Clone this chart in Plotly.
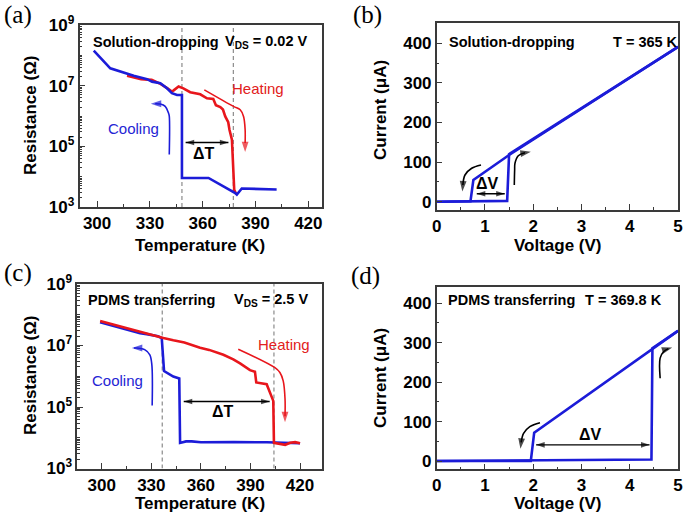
import numpy as np
import plotly.graph_objects as go

FONT = "Liberation Sans, Arial, sans-serif"
SERIF = "Liberation Serif, Times New Roman, serif"
BLUE = "#1c1cd8"
RED = "#e8161c"
FRAME = "#3a3a3a"
GRAY = "#8a8a8a"
W, H = 685, 515

# ---------------- data ----------------
# (a) solution-dropping, R vs T
a_cool_T = [298.1, 307.5, 320.8, 328.4, 331.2, 335.9, 339.7, 342.5, 345.4, 347.2, 348.2,
            348.2, 363.3, 378.5, 379.4, 382.2, 402.0]
a_cool_R = [1.45e8, 3.8e7, 2.14e7, 1.66e7, 1.38e7, 1.23e7, 8.3e6, 5.75e6, 5.0e6, 5.0e6, 5.0e6,
            9.1e3, 9.1e3, 2.9e3, 2.57e3, 4.07e3, 3.8e3]
a_heat_T = [317.0, 325.0, 331.0, 336.0, 340.0, 342.5, 343.5, 346.3, 349.0, 352.9, 358.6,
            362.4, 366.0, 367.5, 370.0, 371.5, 372.8, 374.5, 375.2, 376.6, 377.9, 379.0]
a_heat_R = [2.14e7, 1.66e7, 1.58e7, 1.17e7, 8.3e6, 6.5e6, 7.1e6, 9.5e6, 8.3e6, 6.2e6, 5.25e6,
            3.9e6, 3.7e6, 2.3e6, 2.0e6, 1.66e6, 9.8e5, 6.3e5, 3.55e5, 1.66e5, 3.7e3, 2.7e3]
a_dash_T = [348.2, 377.4]

# (b) solution-dropping, I vs V at 365 K
b_up_V = [0.0, 0.70, 1.46, 1.50, 2.62, 5.0]
b_up_I = [0.0, 1.0, 2.0, 120.0, 206.0, 391.0]
b_down_V = [5.0, 2.62, 1.50, 0.76, 0.70, 0.0]
b_down_I = [391.0, 206.0, 118.0, 55.0, 1.0, 0.0]

# (c) PDMS transferring, R vs T
c_heat_T = [299.0, 310.0, 320.0, 327.2, 337.3, 343.3, 350.0, 359.5, 365.0, 373.6, 379.6, 383.7,
            389.7, 392.7, 393.5, 399.8, 402.8, 403.8, 404.2, 408.0, 411.0, 414.0, 417.0, 420.0]
c_heat_R = [6.31e7, 4.37e7, 3.02e7, 2.34e7, 1.74e7, 1.48e7, 1.26e7, 8.5e6, 7.2e6, 5.0e6, 3.55e6,
            2.63e6, 1.58e6, 1.41e6, 6.3e5, 5.5e5, 2.34e5, 1.58e5, 6.8e3, 6.2e3, 5.9e3, 6.9e3,
            7.2e3, 6.6e3]
c_cool_T = [299.0, 301.0, 310.0, 320.0, 323.2, 327.2, 331.2, 334.0, 336.3, 337.7, 343.3, 346.9,
            347.4, 351.0, 354.4, 360.0, 380.0, 400.0, 420.0]
c_cool_R = [5.75e7, 5.37e7, 3.98e7, 2.82e7, 2.51e7, 2.34e7, 2.19e7, 2.0e7, 1.74e7, 1.48e6,
            9.8e5, 8.5e5, 6.8e3, 7.6e3, 7.6e3, 7.1e3, 7.2e3, 7.1e3, 6.6e3]
c_dash_T = [336.6, 404.2]

# (d) PDMS transferring, I vs V at 369.8 K
d_up_V = [0.0, 4.45, 4.47, 5.0]
d_up_I = [0.0, 4.0, 286.0, 330.0]
d_down_V = [5.0, 2.02, 1.95, 0.0]
d_down_I = [330.0, 72.0, 0.0, 0.0]

# ticks
temp_ticks = [300, 330, 360, 390, 420]
temp_minor = [285, 315, 345, 375, 405]
res_ticks = [1e3, 1e5, 1e7, 1e9]
res_ticktext = ["10<sup>3</sup>", "10<sup>5</sup>", "10<sup>7</sup>", "10<sup>9</sup>"]
cur_ticks = [0, 100, 200, 300, 400]
cur_minor = [50, 150, 250, 350, 450]
volt_ticks = [0, 1, 2, 3, 4, 5]
volt_minor = [0.5, 1.5, 2.5, 3.5, 4.5]

# decoration paths (curved arrows), last point = arrow tip
a_coolarr_T = [341.0, 341.0, 340.6, 338.7, 335.9, 333.0, 330.5]
a_coolarr_R = [5.4e4, 1.0e6, 1.26e6, 2.1e6, 2.5e6, 2.57e6, 2.57e6]
a_heatarr_T = [360.9, 377.5, 381.3, 383.2, 384.1, 384.1, 384.1]
a_heatarr_R = [7.4e6, 2.1e6, 1.62e6, 9.8e5, 3.55e5, 1.3e5, 6.5e4]
c_coolarr_T = [330.5, 330.3, 329.1, 326.2, 321.2, 319.5, 318.2]
c_coolarr_R = [1.12e5, 2.4e6, 5.0e6, 7.2e6, 8.3e6, 8.3e6, 8.3e6]
c_heatarr_T = [382.6, 404.8, 407.8, 409.8, 410.9, 410.9, 410.9]
c_heatarr_R = [7.6e6, 1.9e6, 1.32e6, 7.1e5, 1.86e5, 5.0e4, 3.2e4]
b_downarr_V = [0.918, 0.725, 0.586, 0.542, 0.532]
b_downarr_I = [92.7, 84.3, 67.4, 42.0, 26.0]
b_uparr_V = [1.608, 1.615, 1.622, 1.69, 1.83, 1.95]
b_uparr_I = [42.0, 80.0, 97.0, 116.0, 123.5, 126.0]
d_downarr_V = [2.14, 1.93, 1.80, 1.75, 1.735]
d_downarr_I = [97.0, 87.0, 70.0, 47.0, 31.0]
d_uparr_V = [4.63, 4.63, 4.70, 4.80, 4.88]
d_uparr_I = [210.0, 261.0, 277.0, 285.0, 288.0]

fig = go.Figure()


def line(x, y, xa, ya, color, width, dash=None, shape="linear"):
    fig.add_trace(go.Scatter(x=x, y=y, xaxis=xa, yaxis=ya, mode="lines",
                             line=dict(color=color, width=width, dash=dash, shape=shape),
                             hoverinfo="skip", showlegend=False))


def tip(x, y, xa, ya, color, size=11):
    # arrow head on the last point, oriented along the final segment
    fig.add_trace(go.Scatter(x=x[-2:], y=y[-2:], xaxis=xa, yaxis=ya, mode="markers",
                             marker=dict(symbol="arrow", size=[0, size], color=color,
                                         angleref="previous", line=dict(width=0)),
                             hoverinfo="skip", showlegend=False))


def curved(x, y, xa, ya, color):
    line(x[:-1], y[:-1], xa, ya, color, 1.6, shape="spline")
    tip(x, y, xa, ya, color)


def double(x0, x1, y, xa, ya):
    line([x0, x1], [y, y], xa, ya, "black", 1.4)
    tip([x0, x1], [y, y], xa, ya, "black", size=9)
    tip([x1, x0], [y, y], xa, ya, "black", size=9)


# dashed guide lines
for t in a_dash_T:
    line([t, t], [1e3, 1e9], "x", "y", GRAY, 1.2, dash="4px,3px")
for t in c_dash_T:
    line([t, t], [1e3, 1e9], "x3", "y3", GRAY, 1.2, dash="4px,3px")

# data curves
line(a_heat_T, a_heat_R, "x", "y", RED, 2.6)
line(a_cool_T, a_cool_R, "x", "y", BLUE, 2.6)
line(b_up_V, b_up_I, "x2", "y2", BLUE, 2.6)
line(b_down_V, b_down_I, "x2", "y2", BLUE, 2.6)
line(c_cool_T, c_cool_R, "x3", "y3", BLUE, 2.6)
line(c_heat_T, c_heat_R, "x3", "y3", RED, 2.6)
line(d_up_V, d_up_I, "x4", "y4", BLUE, 2.6)
line(d_down_V, d_down_I, "x4", "y4", BLUE, 2.6)

# curved arrows
curved(a_coolarr_T, a_coolarr_R, "x", "y", BLUE)
curved(a_heatarr_T, a_heatarr_R, "x", "y", RED)
curved(c_coolarr_T, c_coolarr_R, "x3", "y3", BLUE)
curved(c_heatarr_T, c_heatarr_R, "x3", "y3", RED)
curved(b_downarr_V, b_downarr_I, "x2", "y2", "black")
curved(b_uparr_V, b_uparr_I, "x2", "y2", "black")
curved(d_downarr_V, d_downarr_I, "x4", "y4", "black")
curved(d_uparr_V, d_uparr_I, "x4", "y4", "black")

# double-headed arrows
double(350.3, 374.6, 1.35e5, "x", "y")
double(349.6, 401.6, 1.51e5, "x3", "y3")
double(0.83, 1.41, 20, "x2", "y2")
double(2.06, 4.41, 41, "x4", "y4")

ann = []


def P(px, py):
    return px / W, 1 - py / H


def text(px, py, s, size=14.5, color="black", weight="bold", family=FONT, xanchor="left",
         angle=0):
    x, y = P(px, py)
    ann.append(dict(x=x, y=y, xref="paper", yref="paper", text=s, showarrow=False,
                    xanchor=xanchor, yanchor="middle", textangle=angle, borderpad=0,
                    font=dict(family=family, size=size, color=color, weight=weight)))


def dtext(x, y, xr, yr, s, size=15, color="black", weight="bold"):
    ann.append(dict(x=x, y=y, xref=xr, yref=yr, text=s, showarrow=False,
                    xanchor="center", yanchor="middle",
                    font=dict(family=FONT, size=size, color=color, weight=weight)))


# (annotations on log axes take log10 positions)
dtext(361.0, 4.78, "x", "y", "ΔT", size=16)
dtext(373.6, 4.85, "x3", "y3", "ΔT", size=16)
dtext(1.05, 47, "x2", "y2", "ΔV", size=16)
dtext(3.18, 66, "x4", "y4", "ΔV", size=16)

dtext(320.8, 5.58, "x", "y", "Cooling", size=15, color="#2424d4", weight="normal")
dtext(391.3, 6.90, "x", "y", "Heating", size=15, color="#e22020", weight="normal")
dtext(309.6, 5.87, "x3", "y3", "Cooling", size=15, color="#2424d4", weight="normal")
dtext(410.3, 7.02, "x3", "y3", "Heating", size=15, color="#e22020", weight="normal")

# in-panel captions
text(91.7, 41.7, "Solution-dropping")
text(224, 41.7, "V<sub>DS</sub> = 0.02 V")
text(448.3, 41.7, "Solution-dropping")
text(611.7, 41.7, "T = 365 K")
text(87.3, 300, "PDMS transferring")
text(233.3, 300, "V<sub>DS</sub> = 2.5 V")
text(446.7, 300, "PDMS transferring")
text(584.3, 300, "T = 369.8 K")

# panel labels
text(17.5, 15, "(a)", size=25, weight="normal", family=SERIF, xanchor="center")
text(367, 15, "(b)", size=25, weight="normal", family=SERIF, xanchor="center")
text(18, 273, "(c)", size=25, weight="normal", family=SERIF, xanchor="center")
text(366, 276, "(d)", size=25, weight="normal", family=SERIF, xanchor="center")

# axis titles
text(30, 116, "Resistance (Ω)", size=17, xanchor="center", angle=-90)
text(200, 245.7, "Temperature (K)", size=17, xanchor="center")
text(380, 110, "Current (μA)", size=17, xanchor="center", angle=-90)
text(558.3, 245.7, "Voltage (V)", size=17, xanchor="center")
text(30, 376, "Resistance (Ω)", size=17, xanchor="center", angle=-90)
text(200, 503.3, "Temperature (K)", size=17, xanchor="center")
text(380, 378, "Current (μA)", size=17, xanchor="center", angle=-90)
text(558.3, 503.3, "Voltage (V)", size=17, xanchor="center")

tickfont = dict(family=FONT, size=17, color="black", weight="bold")
base = dict(showline=True, linecolor=FRAME, linewidth=1.5, mirror=True, ticks="inside",
            tickcolor=FRAME, tickwidth=1.3, ticklen=6, showgrid=False, zeroline=False,
            tickfont=tickfont, fixedrange=True, automargin=False)


def xa_temp(dom, rng, anchor):
    return dict(base, domain=dom, range=rng, anchor=anchor, tickmode="array",
                tickvals=temp_ticks,
                minor=dict(ticks="inside", ticklen=3, tickcolor=FRAME, tickwidth=1.2,
                           tickmode="array", tickvals=temp_minor))


res_minor = [m * 10 ** k for k in range(3, 9) for m in range(2, 11)]


def ya_res(dom, anchor):
    return dict(base, domain=dom, type="log", range=[3, 9], anchor=anchor, tickmode="array",
                tickvals=res_ticks, ticktext=res_ticktext,
                minor=dict(ticks="inside", ticklen=3, tickcolor=FRAME, tickwidth=1.0,
                           tickmode="array", tickvals=res_minor))


def xa_volt(dom, anchor):
    return dict(base, domain=dom, range=[0, 5], anchor=anchor, tickmode="array",
                tickvals=volt_ticks,
                minor=dict(ticks="inside", ticklen=3, tickcolor=FRAME, tickwidth=1.2,
                           tickmode="array", tickvals=volt_minor))


def ya_cur(dom, rng, anchor):
    return dict(base, domain=dom, range=rng, anchor=anchor, tickmode="array",
                tickvals=cur_ticks,
                minor=dict(ticks="inside", ticklen=3, tickcolor=FRAME, tickwidth=1.2,
                           tickmode="array", tickvals=cur_minor))


fig.update_layout(
    template="none",
    width=W, height=H, autosize=False,
    margin=dict(l=0, r=0, t=0, b=0, pad=0, autoexpand=False),
    paper_bgcolor="white", plot_bgcolor="white", showlegend=False,
    xaxis=xa_temp([79.5 / W, 321.7 / W], [290, 427.6], "y"),
    yaxis=ya_res([1 - 207 / H, 1 - 25.3 / H], "x"),
    xaxis2=xa_volt([436.7 / W, 678 / W], "y2"),
    yaxis2=ya_cur([1 - 210 / H, 1 - 23.3 / H], [-21, 450.5], "x2"),
    xaxis3=xa_temp([77.3 / W, 321.7 / W], [285.2, 433.1], "y3"),
    yaxis3=ya_res([1 - 468.5 / H, 1 - 284 / H], "x3"),
    xaxis4=xa_volt([436.7 / W, 678 / W], "y4"),
    yaxis4=ya_cur([1 - 469.3 / H, 1 - 286.7 / H], [-21, 442], "x4"),
    annotations=ann,
)

fig.write_html("out.html", config={"displayModeBar": False},
               post_script="document.body.style.margin='0';document.body.style.overflow='hidden';")
